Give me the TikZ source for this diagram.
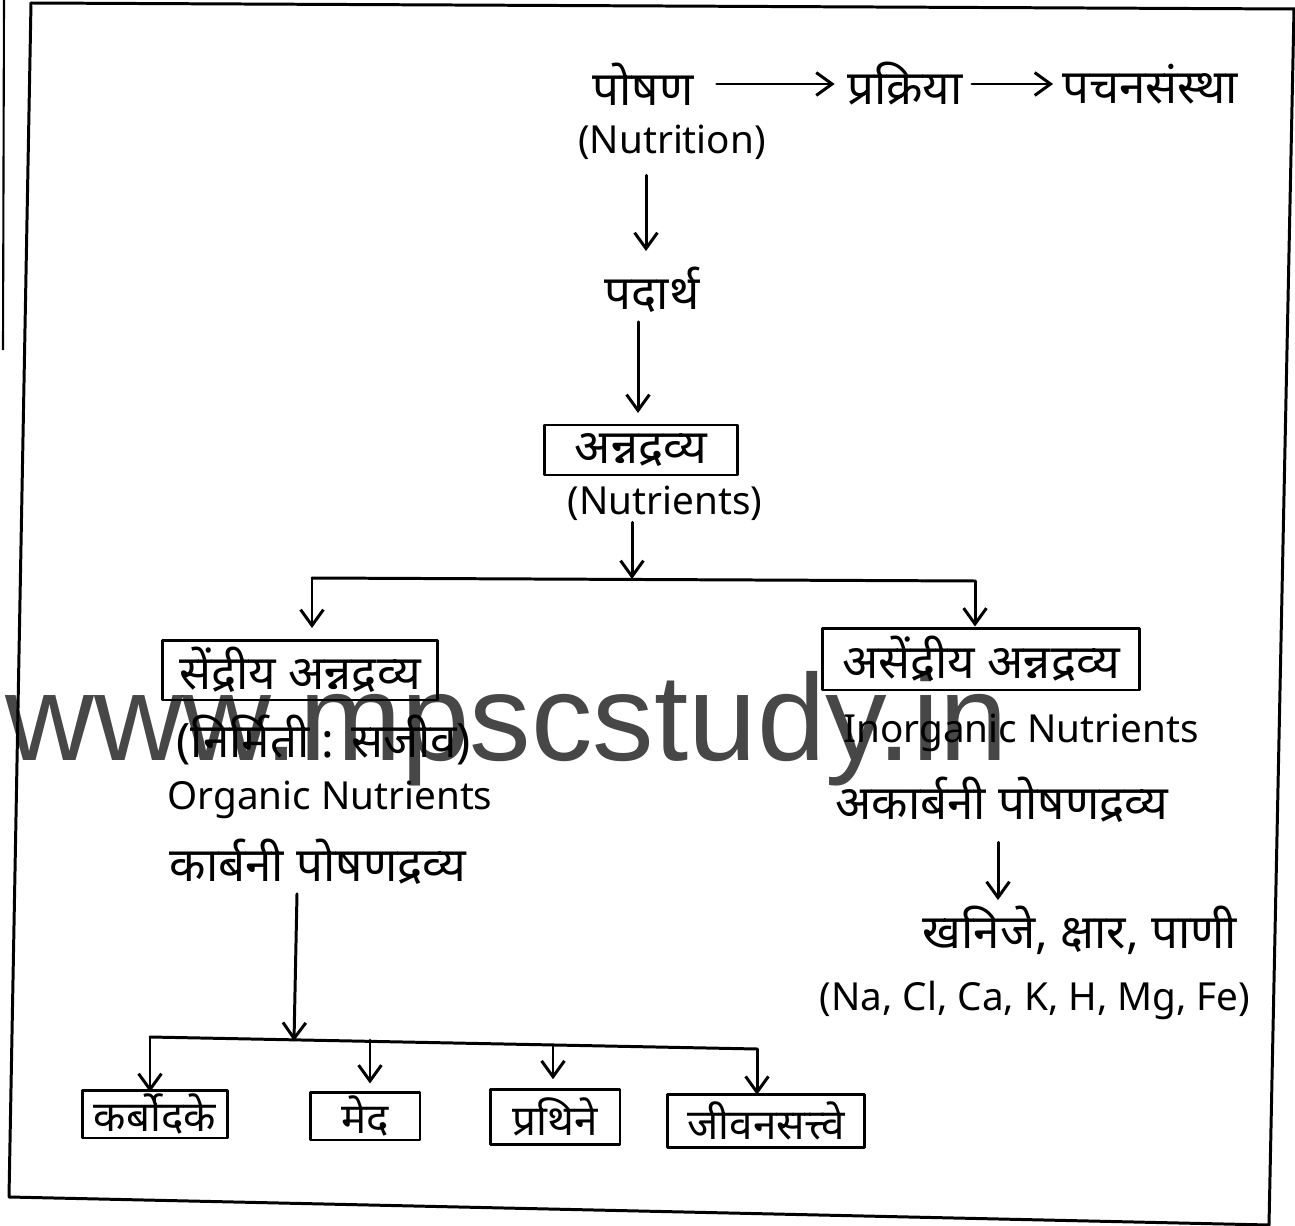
\documentclass[tikz,border=0pt]{standalone}
\usepackage{fontspec}
\setmainfont{Noto Sans}
\newfontfamily\deva[Script=Devanagari]{Noto Sans}
\newfontfamily\wmfont{Liberation Sans}
\usetikzlibrary{arrows.meta}

\begin{document}
\begin{tikzpicture}[x=0.02cm,y=-0.02cm,
  ink/.style={line width=1.7pt, line cap=round, line join=round},
  arr/.style={ink, -{Straight Barb[length=9pt,width=13pt,line width=1.7pt]}},
  dv/.style={font=\deva\fontsize{27}{30}\selectfont, inner sep=1pt},
  en/.style={font=\fontsize{22}{26}\selectfont, inner sep=1pt},
  bx/.style={dv, draw, ink, inner sep=0pt},
  sbx/.style={bx, font=\deva\fontsize{24}{28}\selectfont},
  watermark/.style={font=\wmfont\fontsize{70}{70}\selectfont, text=black, text opacity=0.72, inner sep=0pt, anchor=base west}]

\useasboundingbox (0,0) rectangle (1295,1226);
\fill[white] (0,0) rectangle (1295,1226);

% page frame and scan edge
\draw[ink] (31,3) -- (1295,9);
\draw[ink] (31,3) -- (9,1197) -- (1269,1225) -- (1294,9);
\draw[line width=1.2pt] (4,0) -- (3,350);

% top row
\node[dv] (poshan) at (643,84) {पोषण};
\node[dv] (prakriya) at (905,84) {प्रक्रिया};
\node[dv] (pachan) at (1150,84) {पचनसंस्था};
\node[en] (nutrition) at (672,142) {(Nutrition)};
\draw[arr] ([xshift=12pt]poshan.east) -- ([xshift=-6pt]prakriya.west);
\draw[arr] ([xshift=4pt]prakriya.east) -- ([xshift=-4pt]pachan.west);

% middle chain
\node[dv] (padarth) at (652,290) {पदार्थ};
\draw[arr] ([yshift=-8pt]nutrition.south -| 646,0) -- ([yshift=8pt]padarth.north -| 646,0);
\node[bx, minimum width=3.86cm, minimum height=1.0cm] (anna) at (641,450) {अन्नद्रव्य};
\node[en] (nutrients) at (665,503) {(Nutrients)};
\draw[arr] ([yshift=-4pt]padarth.south -| 638,0) -- ([yshift=6pt]anna.north -| 638,0);

% main split
\coordinate (hm) at (632,579);
\coordinate (hl) at (312,578);
\coordinate (hr) at (975,581);
\draw[arr] (nutrients.south -| hm) -- (hm);
\draw[ink] (hl) -- (hr);

% organic branch
\node[bx, minimum width=5.5cm, minimum height=1.2cm] (sendriya) at (300,670) {सेंद्रीय अन्नद्रव्य};
\node[dv] (nirmiti) at (324,740) {(निर्मिती : सजीव)};
\node[en] (organic) at (330,800) {Organic Nutrients};
\node[dv] (karbani) at (318,862) {कार्बनी पोषणद्रव्य};
\draw[arr] (hl) -- ([yshift=6pt]sendriya.north -| hl);

% inorganic branch
\node[bx, minimum width=6.36cm, minimum height=1.24cm] (asendriya) at (981,659) {असेंद्रीय अन्नद्रव्य};
\node[en] (inorganic) at (1021,733) {Inorganic Nutrients};
\node[dv] (akarbani) at (1002,800) {अकार्बनी पोषणद्रव्य};
\node[dv] (khanije) at (1080,930) {खनिजे, क्षार, पाणी};
\node[en] (elements) at (1035,1000) {(Na, Cl, Ca, K, H, Mg, Fe)};
\draw[arr] (hr) -- (asendriya.north -| hr);
\draw[arr] ([yshift=-10pt]akarbani.south -| 998,0) -- ([yshift=2pt]khanije.north -| 998,0);

% organic nutrient groups
\node[sbx, minimum width=2.92cm, minimum height=0.96cm] (karbo) at (155,1114) {कर्बोदके};
\node[sbx, minimum width=2.2cm, minimum height=0.96cm] (med) at (365,1116) {मेद};
\node[sbx, minimum width=2.6cm, minimum height=1.1cm] (prathine) at (555,1117) {प्रथिने};
\node[sbx, minimum width=3.96cm, minimum height=1.06cm] (jeevan) at (766,1121) {जीवनसत्त्वे};

\coordinate (gl) at (150,1037);
\coordinate (gm) at (294,1041);
\coordinate (gr) at (757,1049);
\draw[arr] ([yshift=-4pt]karbani.south -| 297,0) -- (gm);
\draw[ink] (gl) -- (gr);
\draw[arr] (gl) -- ([yshift=-2pt]karbo.north -| gl);
\draw[arr] (370,1040) -- ([yshift=4pt]med.north -| 370,0);
\draw[arr] (553,1045) -- ([yshift=5pt]prathine.north -| 553,0);
\draw[arr] (gr) -- ([yshift=-1pt]jeevan.north -| gr);

% site watermark
\node[watermark] (site) at (5,760) {www.mpscstudy.in};
\end{tikzpicture}
\end{document}
